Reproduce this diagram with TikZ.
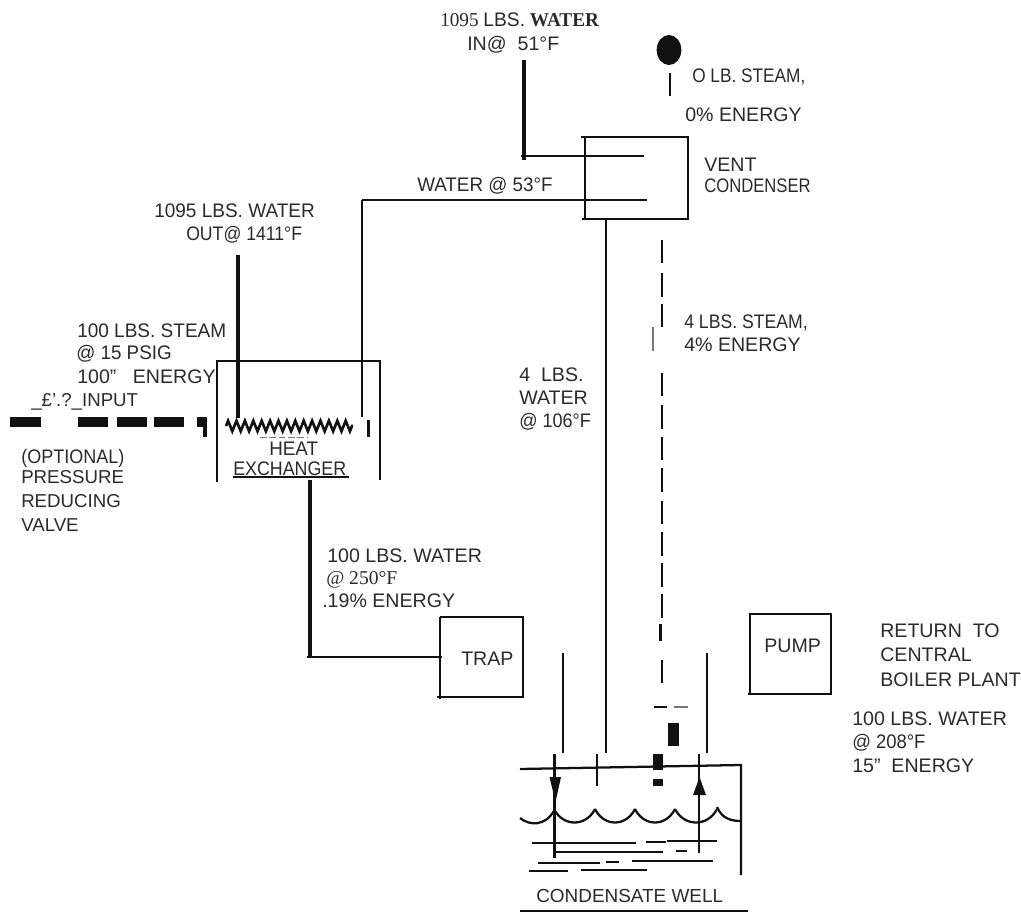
\documentclass[tikz,border=0pt]{standalone}
\usepackage{fontspec}
\setmainfont{Liberation Sans}
\newfontfamily\serifpart{Liberation Serif}
\usepackage{graphicx}
\usepackage{xcolor}
\usetikzlibrary{arrows.meta,decorations.pathmorphing,shapes.geometric}
\definecolor{ink}{HTML}{111111}
\definecolor{labelink}{HTML}{2A2A2A}
\definecolor{faded}{HTML}{777777}
\newcommand{\squeezed}[2]{\scalebox{#1}[1]{#2}}
\tikzset{
  >=Latex,
  lbl/.style={anchor=base west,inner sep=0pt,align=left,text=labelink,
              font=\fontsize{14.7}{17.25}\selectfont},
  lblmid/.style={lbl,font=\fontsize{14}{17}\selectfont},
  pipe/.style={draw=ink,line width=1.7pt},
  widepipe/.style={draw=ink,line width=2.2pt},
  heavypipe/.style={draw=ink,line width=3.4pt},
  steamdash/.style={draw=ink,line width=2pt},
  inletdash/.style={draw=ink,line width=7.5pt},
  waterline/.style={draw=ink,line width=1.4pt},
  coilpipe/.style={draw=ink,line width=2pt,decorate,
                   decoration={zigzag,segment length=6.3pt,amplitude=3.9pt}}
}
\begin{document}
\begin{tikzpicture}[x=0.75pt,y=-0.75pt,line join=miter]
  \useasboundingbox (0,0) rectangle (1021,913);

  % Vent condenser
  \coordinate (ventNW) at (581,137);
  \coordinate (ventNE) at (688,137);
  \coordinate (ventSE) at (688,219);
  \coordinate (ventSW) at (582,219);
  \draw[pipe] (ventNW)--(ventNE)--(ventSE)--(ventSW);
  \draw[pipe] (585,137)--(585,219);
  \coordinate (waterIn) at (524,60);
  \coordinate (coilIn) at (644,156);
  \draw[heavypipe] (waterIn)--(524,160);
  \draw[pipe] (521,156)--(coilIn);
  \coordinate (coilOut) at (647,200);
  \coordinate (midElbow) at (362,200);
  \coordinate (midDown) at (362,417);
  \draw[pipe] (coilOut)--(midElbow);
  \draw[widepipe] (midElbow)--(midDown);
  \draw[steamdash] (368.5,420)--(368.5,437);

  % Vent on top
  \node[ellipse,fill=ink,minimum width=18.5pt,minimum height=22.5pt,inner sep=0pt]
    (ventball) at (669,50) {};
  \draw[pipe] (670,73)--(670,96);

  % Heat exchanger
  \coordinate (hxNW) at (216,361);
  \coordinate (hxNE) at (381,361);
  \draw[pipe] (217,482)--(217,361)--(hxNE);
  \draw[pipe] (380,361)--(380,480);
  \draw[pipe] (233,477)--(349,477);
  \draw[heavypipe] (238,255)--(238,418);
  \draw[coilpipe] (226,426)--(353,426);
  \draw[faded,line width=0.7pt,dash pattern=on 5pt off 2pt] (260,437)--(308,437);

  % Steam input
  \foreach \xa/\xb in {10/41,78/108,117/147,154/184,197/207}
    \draw[inletdash] (\xa,422)--(\xb,422);
  \draw[draw=ink,line width=3pt] (205,422)--(205,437);

  % Trap
  \coordinate (trapNW) at (440,617);
  \coordinate (trapNE) at (523,617);
  \coordinate (trapSE) at (523,697);
  \coordinate (trapSW) at (437,697);
  \draw[pipe] (trapNW)--(trapNE)--(trapSE)--(trapSW);
  \draw[pipe] (440,617)--(440,699);
  \draw[heavypipe] (310,480)--(310,658);
  \draw[pipe] (307,657)--(442,657);

  % Pump
  \draw[pipe] (749,614)--(831,614)--(831,694)--(748,694);
  \draw[pipe] (750,614)--(750,694);

  % Condensate and steam lines down to the well
  \draw[widepipe] (606,219)--(606,753);
  \draw[pipe] (597,754)--(597,786);
  \foreach \ya/\yb in {240/263,273/297,304/327,373/396,405/429,437/460,468/492,
                       501/524,532/556,563/587,594/618,660/683}
    \draw[steamdash] (662,\ya)--(662,\yb);
  \draw[steamdash] (660.5,624)--(660.5,641);
  \draw[faded,line width=1pt] (653,327)--(653,351);
  \draw[ink,line width=1.8pt] (654,707)--(667,707);
  \draw[faded,line width=1.8pt] (674,707)--(688,707);
  \fill[ink] (668,723) rectangle (679,746);
  \fill[ink] (653,754) rectangle (663,770);
  \fill[ink] (653,779) rectangle (663,786);

  % Condensate well
  \coordinate (wellL) at (520,769);
  \coordinate (wellR) at (741,765);
  \draw[pipe] (wellL)--(wellR)--(741,875);
  \draw[pipe] (563,653)--(563,753);
  \draw[pipe] (707,653)--(707,753);
  \draw[pipe] (554.5,754)--(554.5,858);
  \draw[pipe] (699,754)--(699,853);
  \fill[ink] (549.5,777)--(561,777)--(555.5,802)--cycle;
  \fill[ink] (693,795)--(706,795)--(699.5,777)--cycle;
  \draw[pipe] (520,818) .. controls (530,826) and (545,826) .. (554,811);
  \foreach \xa/\xb in {554/595,595/635,635/675,675/717}
    \draw[pipe] (\xa,809) .. controls (\xa+9,827) and (\xb-9,827) .. (\xb,809);
  \draw[pipe] (717,807) .. controls (722,819) and (732,821) .. (741,821);
  \foreach \xa/\xb/\yy in {532/636/843,646/666/842,667/717/841,555/663/852,676/687/851,
                           538/600/863,606/619/862,632/713/861,529/568/871,581/647/870}
    \draw[waterline] (\xa,\yy)--(\xb,\yy);
  \draw[pipe,line width=2.2pt] (520,911)--(748,911);

  % Labels
  \node[lbl] (waterInText) at (440,27)
    {\squeezed{0.98}{\serifpart 1095 {\fontspec{Liberation Sans}LBS.} \textbf{WATER}}};
  \node[lbl] (waterInTemp) at (467,51) {IN@\ \ 51°F};
  \node[lbl] (ventText) at (692,83) {\squeezed{0.88}{O LB. STEAM,}};
  \node[lbl] (ventEnergy) at (685,122) {0\% ENERGY};
  \node[lbl] (ventCondA) at (704,172) {VENT};
  \node[lbl] (ventCondB) at (704,193) {\squeezed{0.85}{CONDENSER}};
  \node[lbl] (midWater) at (417,191) {\squeezed{0.96}{WATER @ 53°F}};
  \node[lbl] (waterOut) at (154,218) {\squeezed{0.97}{1095 LBS. WATER}};
  \node[lbl] (waterOutTemp) at (186,240) {\squeezed{0.9}{OUT@ 1411°F}};
  \node[lbl] (steamA) at (77,337) {\squeezed{0.97}{100 LBS. STEAM}};
  \node[lbl] (steamB) at (76,359) {\squeezed{0.96}{@ 15 PSIG}};
  \node[lbl] (steamC) at (77,383) {100"\ \ \ ENERGY};
  \node[lblmid] (steamD) at (31,406) {\_£'.?\_INPUT};
  \node[lbl] (prvA) at (21,463) {\squeezed{0.92}{(OPTIONAL)}};
  \node[lblmid] (prvText) at (21,531) {PRESSURE\\[1pt]REDUCING\\[1pt]VALVE};
  \node[lbl] (hxA) at (269,455) {\squeezed{0.96}{HEAT}};
  \node[lbl] (hxB) at (233,475) {\squeezed{0.91}{EXCHANGER}};
  \node[lbl] (condA) at (519,381) {4\ \ LBS.};
  \node[lbl] (condB) at (519,404) {WATER};
  \node[lbl] (condC) at (519,427) {\squeezed{0.92}{@ 106°F}};
  \node[lbl] (steamFourA) at (684,328) {\squeezed{0.9}{4 LBS. STEAM,}};
  \node[lbl] (steamFourB) at (684,351) {4\% ENERGY};
  \node[lbl] (trapWaterA) at (327,562) {100 LBS. WATER};
  \node[lbl] (trapWaterB) at (326,584) {\serifpart @ 250°F};
  \node[lbl] (trapWaterC) at (322,607) {.19\% ENERGY};
  \node[lbl] (trapText) at (461,665) {TRAP};
  \node[lbl] (pumpText) at (764,652) {PUMP};
  \node[lbl] (returnText) at (880,686) {RETURN\ \ TO\\[1pt]CENTRAL\\[1pt]BOILER PLANT};
  \node[lbl] (returnA) at (852,725) {100 LBS. WATER};
  \node[lbl] (returnB) at (852,748) {\squeezed{0.94}{@ 208°F}};
  \node[lbl] (returnC) at (852,772) {15"\ \ ENERGY};
  \node[lblmid,font=\fontsize{14.2}{17}\selectfont] (wellText) at (536,902) {CONDENSATE WELL};
\end{tikzpicture}
\end{document}
